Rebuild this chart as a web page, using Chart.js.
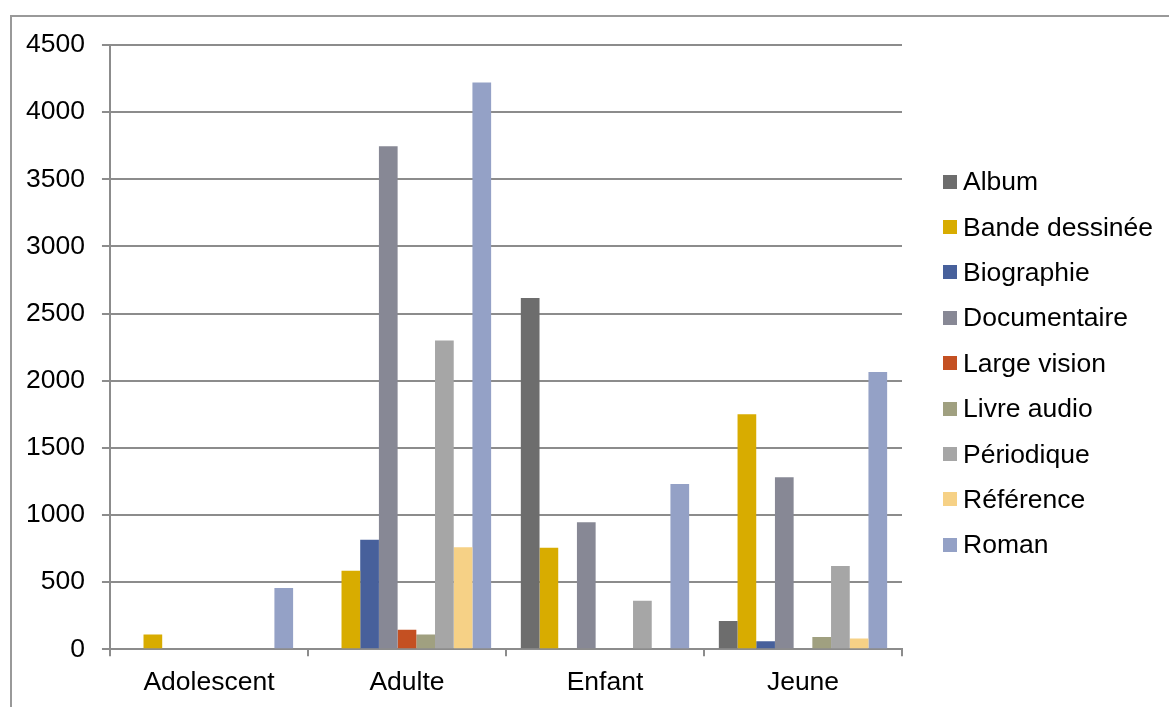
<!DOCTYPE html>
<html>
<head>
<meta charset="utf-8">
<script src="https://cdn.jsdelivr.net/npm/chart.js@4/dist/chart.umd.min.js"></script>
<style>
    html, body { margin: 0; padding: 0; background: #fff; }
    #wrap { position: relative; width: 1169px; height: 707px; overflow: hidden; }
    #frame { position: absolute; left: 10px; top: 15px; width: 1200px; height: 800px; border: 2px solid #999; box-sizing: border-box; }
    #chart { position: absolute; left: 0; top: 0; }
    #legend { position: absolute; left: 943px; top: 159px; font-family: "Liberation Sans", Arial, sans-serif; font-size: 26.5px; color: #000; }
    .item { height: 45.4px; display: flex; align-items: center; white-space: nowrap; }
    .box { width: 14px; height: 14px; margin-right: 6px; flex: none; }
</style>
</head>
<body>
<div id="wrap">
    <div id="frame"></div>
    <canvas id="chart" width="1169" height="707"></canvas>
    <div id="legend"></div>
</div>
<script>
// Categories and series
const categories = ['Adolescent', 'Adulte', 'Enfant', 'Jeune'];
const seriesNames = ['Album', 'Bande dessinée', 'Biographie', 'Documentaire', 'Large vision', 'Livre audio', 'Périodique', 'Référence', 'Roman'];
const seriesColors = ['#6d6d6d', '#d8ac00', '#47609b', '#878895', '#c45022', '#a0a080', '#a6a6a6', '#f6d186', '#94a1c6'];

const album = [0, 0, 2615, 210];
const bandeDessinee = [110, 585, 755, 1750];
const biographie = [0, 815, 0, 60];
const documentaire = [0, 3745, 945, 1280];
const largeVision = [0, 145, 0, 0];
const livreAudio = [0, 110, 0, 90];
const periodique = [0, 2300, 360, 620];
const reference = [0, 760, 0, 80];
const roman = [455, 4220, 1230, 2065];

const yTicks = [0, 500, 1000, 1500, 2000, 2500, 3000, 3500, 4000, 4500];

const seriesValues = [album, bandeDessinee, biographie, documentaire, largeVision, livreAudio, periodique, reference, roman];

const font = { family: '"Liberation Sans", Arial, sans-serif', size: 26.5 };
const gridGray = '#8c8c8c';

const datasets = seriesNames.map((name, i) => ({
    label: name,
    data: seriesValues[i],
    backgroundColor: seriesColors[i],
    borderWidth: 0,
    barPercentage: 1,
    categoryPercentage: 0.85
}));

const ctx = document.getElementById('chart').getContext('2d');
const chart = new Chart(ctx, {
    type: 'bar',
    data: { labels: categories, datasets: datasets },
    options: {
        responsive: false,
        animation: false,
        layout: { padding: { left: 9, top: 45, right: 267, bottom: -3 } },
        plugins: {
            legend: { display: false },
            tooltip: { enabled: false }
        },
        scales: {
            x: {
                grid: { display: true, offset: true, drawOnChartArea: false, drawTicks: true, tickLength: 7, color: gridGray, lineWidth: 2 },
                border: { display: true, color: gridGray, width: 2 },
                ticks: { color: '#000', font: font, padding: 11 }
            },
            y: {
                min: 0,
                max: 4500,
                afterBuildTicks: function(axis) {
                    axis.ticks = yTicks.map(v => ({ value: v }));
                },
                grid: { color: gridGray, lineWidth: 2, tickLength: 8 },
                border: { display: true, color: gridGray, width: 2 },
                ticks: {
                    color: '#000',
                    font: font,
                    padding: 17,
                    callback: function(value) {
                        return String(value);
                    }
                }
            }
        }
    }
});

// Legend on the right
const legendEl = document.getElementById('legend');
seriesNames.forEach((name, i) => {
    const row = document.createElement('div');
    row.className = 'item';
    row.innerHTML = `<span class="box" style="background:${seriesColors[i]}"></span><span>${name}</span>`;
    legendEl.appendChild(row);
});
</script>
</body>
</html>
